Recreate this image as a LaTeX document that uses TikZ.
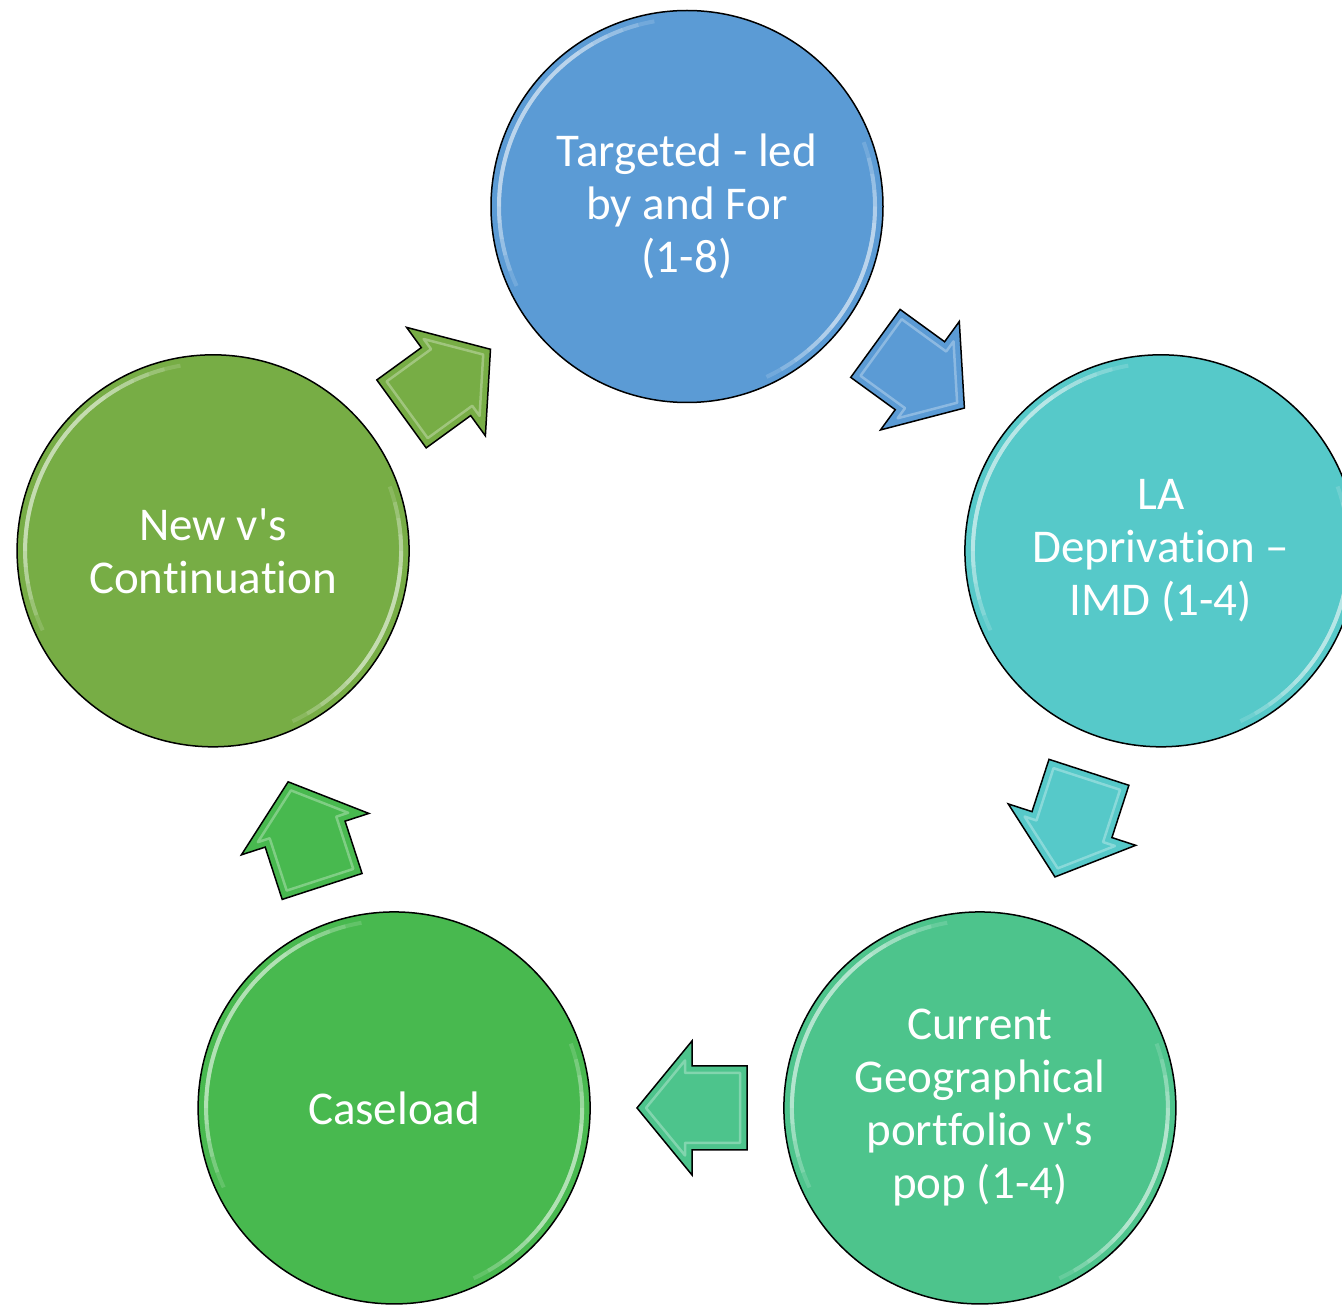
\documentclass[tikz,border=0pt]{standalone}
\usepackage{fontspec}
\newfontfamily\labelfont[Ligatures=NoCommon]{Carlito}
\usetikzlibrary{calc}
\definecolor{cA}{HTML}{5B9BD5}
\definecolor{cB}{HTML}{56C9C9}
\definecolor{cC}{HTML}{4DC48C}
\definecolor{cD}{HTML}{48B94F}
\definecolor{cE}{HTML}{77AD45}
\tikzset{
  circ/.style={circle, draw=black, line width=1.5pt, minimum size=392pt, inner sep=0pt,
    text=white, align=center, font=\labelfont\fontsize{47}{53}\selectfont},
  rimpart/.style={line width=4pt, opacity=0.16, line cap=butt},
  bevel/.style={white, opacity=0.3, line width=2.5pt, line join=round},
  arrowline/.style={draw=black, line width=1.5pt, line join=miter},
}
\newcommand\rimglow[2]{%
  \foreach \k in {0,...,5}{%
    \draw[#2!10!white, rimpart] ($(#1.center)+(100+5*\k:188)$) arc (100+5*\k:205-5*\k:188);
    \draw[#2!10!white, rimpart] ($(#1.center)+(-65+5*\k:188)$) arc (-65+5*\k:20-5*\k:188);
  }%
}
\newcommand\cyclearrow[3]{%
  \path let \p1=($(#2.center)-(#1.center)$) in
    \pgfextra{\pgfmathsetmacro\arrang{atan2(\y1,\x1)}\global\let\arrang\arrang};
  \begin{scope}[shift={($(#1.center)!0.5!(#2.center)$)}, rotate=\arrang, xshift=-5pt]
    \fill[#3] (-55,42) -- (0,42) -- (0,67) -- (55,0) -- (0,-67) -- (0,-42) -- (-55,-42) -- cycle;
    \draw[bevel] (-48,35) -- (7,35) -- (7,47.5) -- (46,0) -- (7,-47.5) -- (7,-35) -- (-48,-35) -- cycle;
    \draw[arrowline] (-55,42) -- (0,42) -- (0,67) -- (55,0) -- (0,-67) -- (0,-42) -- (-55,-42) -- cycle;
  \end{scope}}
\begin{document}
\begin{tikzpicture}[x=1pt,y=1pt]
  \useasboundingbox (0,0) rectangle (1342,-1305);
  \fill[white] (0,0) rectangle (1342,-1305);
  \coordinate (O) at (687,-704.8);
  \node[circ, fill=cA] (n1) at ($(O)+(90:498.3)$) {Targeted - led\\by and For\\(1-8)};
  \node[circ, fill=cB] (n2) at ($(O)+(18:498.3)$) {LA\\Deprivation –\\IMD (1-4)};
  \node[circ, fill=cC] (n3) at ($(O)+(-54:498.3)$) {Current\\Geographical\\portfolio v's\\pop (1-4)};
  \node[circ, fill=cD] (n4) at ($(O)+(-126:498.3)$) {Caseload};
  \node[circ, fill=cE] (n5) at ($(O)+(162:498.3)$) {New v's\\Continuation};
  \rimglow{n1}{cA}
  \rimglow{n2}{cB}
  \rimglow{n3}{cC}
  \rimglow{n4}{cD}
  \rimglow{n5}{cE}
  \cyclearrow{n1}{n2}{cA}
  \cyclearrow{n2}{n3}{cB}
  \cyclearrow{n3}{n4}{cC}
  \cyclearrow{n4}{n5}{cD}
  \cyclearrow{n5}{n1}{cE}
\end{tikzpicture}
\end{document}
